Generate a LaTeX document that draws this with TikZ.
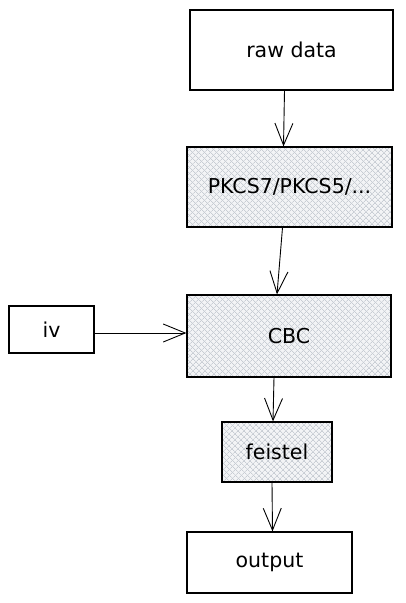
\documentclass[tikz,border=0pt]{standalone}
\usepackage{fontspec}
\setmainfont{DejaVu Sans}
\usetikzlibrary{arrows.meta,patterns.meta}
\definecolor{hatch}{HTML}{C8CDD4}
\definecolor{hatchbg}{HTML}{F3F4F6}
\tikzset{
  box/.style={draw=black,line width=1.2pt,rectangle,inner sep=0pt,font=\fontsize{20.5}{24}\selectfont},
  hatched/.style={preaction={fill=hatchbg},
    preaction={pattern={Lines[angle=45,distance=4pt,line width=0.7pt]},pattern color=hatch},
    preaction={pattern={Lines[angle=-45,distance=4pt,line width=0.7pt]},pattern color=hatch}},
  arr/.style={draw=black,line width=0.9pt,-{Straight Barb[length=22pt,width=18pt,line width=0.9pt]}},
}
\begin{document}
\begin{tikzpicture}[x=1pt,y=-1pt]
\useasboundingbox (0,0) rectangle (405,603);
\node[box,minimum width=203pt,minimum height=80pt] (raw) at (291.5,50) {raw data};
\node[box,hatched,minimum width=205pt,minimum height=80pt] (pkcs) at (289.5,187) {PKCS7/PKCS5/...};
\node[box,hatched,minimum width=204pt,minimum height=82pt] (cbc) at (289,336) {CBC};
\node[box,minimum width=85pt,minimum height=47pt] (iv) at (51.5,329.5) {iv};
\node[box,hatched,minimum width=110pt,minimum height=60pt] (feistel) at (277,452) {feistel};
\node[box,minimum width=165pt,minimum height=61pt] (output) at (269.5,562.5) {output};
\draw[arr] ([xshift=-7pt]raw.south) -- ([xshift=-6pt]pkcs.north);
\draw[arr] ([xshift=-7pt]pkcs.south) -- ([xshift=-12pt]cbc.north);
\draw[arr] ([xshift=-15pt]cbc.south) -- ([xshift=-4pt]feistel.north);
\draw[arr] ([xshift=-5pt]feistel.south) -- ([xshift=3pt]output.north);
\draw[arr] ([yshift=-3.5pt]iv.east) -- ([yshift=3pt]cbc.west);
\end{tikzpicture}
\end{document}
